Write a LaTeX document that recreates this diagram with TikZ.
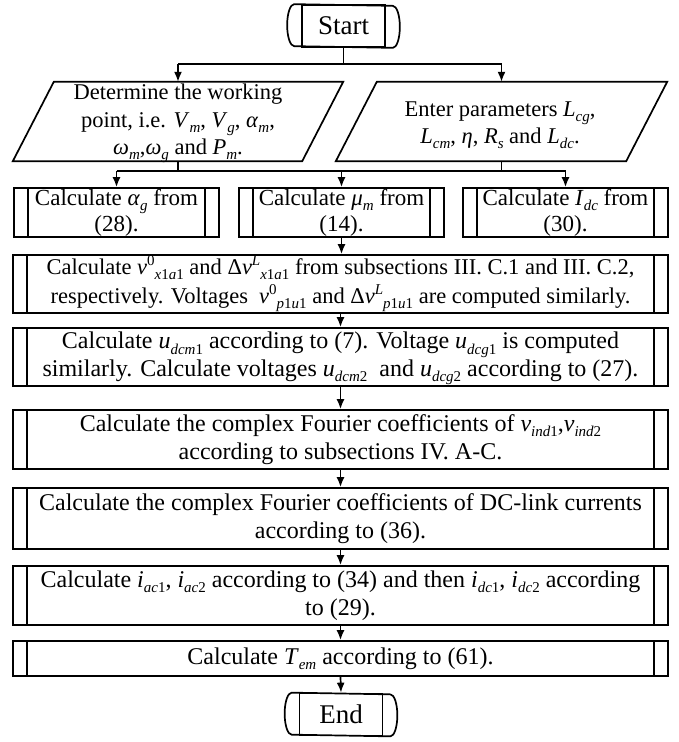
\documentclass[tikz,border=0pt]{standalone}
\usepackage{fontspec}
\setmainfont{Liberation Serif}
\usetikzlibrary{arrows.meta,calc}
\newcommand\lo[1]{\raisebox{-0.22em}[0pt][0pt]{\fontsize{15}{15}\selectfont #1}}
\newcommand\up[1]{\raisebox{0.4em}[0pt][0pt]{\fontsize{15}{15}\selectfont #1}}
\newcommand\iv[1]{\textit{#1}}
\tikzset{
  conn/.style={line width=1.7pt},
  arr/.style={conn,-{Latex[length=10pt,width=8pt]}},
  pbox/.style={inner sep=0pt, minimum height=79},
  ptext/.style={inner sep=0pt, align=center, font=\fontsize{22.5}{27.5}\selectfont},
  sbox/.style={draw, line width=1.7pt, inner sep=0pt, minimum width=205, minimum height=49, align=center, font=\fontsize{23}{26}\selectfont},
  lbox/.style={draw, line width=1.7pt, inner sep=0pt, minimum width=655, align=center},
  term/.style={draw, line width=1.7pt, inner sep=0pt, minimum width=83, minimum height=42, font=\fontsize{27}{30}\selectfont},
}
\begin{document}
\begin{tikzpicture}[x=1pt,y=-1pt,font=\fontsize{24}{27.5}\selectfont]
\useasboundingbox (0,0) rectangle (679,742);
% terminals
\node[term] (start) at (343.5,26) {Start};
\node[term] (end) at (341,714.5) {End};
\foreach \t in {start,end}{
  \draw[line width=1.7pt] ($(\t.north west)+(-7,0)$) arc[start angle=90,end angle=270,x radius=7pt,y radius=21pt]
    -- ($(\t.south east)+(7,0)$) arc[start angle=-90,end angle=90,x radius=7pt,y radius=21pt] -- cycle;
}
% parallelograms
\node[pbox, minimum width=330] (p1) at (178,121.5) {};
\node[pbox, minimum width=331] (p2) at (501.5,121.5) {};
\foreach \p in {p1,p2}{
  \draw[line width=1.7pt] ($(\p.north west)+(41,0)$) -- (\p.north east) -- ($(\p.south east)+(-41,0)$) -- (\p.south west) -- cycle;
}
\node[ptext] (p1t) at (178,121) {Determine the working\\ point, i.e. \iv{V}\lo{\iv{m}}, \iv{V}\lo{\iv{g}}, \iv{α}\lo{\iv{m}},\\ \iv{ω}\lo{\iv{m}},\iv{ω}\lo{\iv{g}} and \iv{P}\lo{\iv{m}}.};
\node[ptext] (p2t) at (500,125) {Enter parameters \iv{L}\lo{\iv{cg}},\\ \iv{L}\lo{\iv{cm}}, \iv{η}, \iv{R}\lo{\iv{s}} and \iv{L}\lo{\iv{dc}}.};
% subprocess boxes
\node[sbox] (b1) at (116.5,212.5) {Calculate \iv{α}\lo{\iv{g}} from\\ (28).};
\node[sbox] (b2) at (341.5,212.5) {Calculate \iv{μ}\lo{\iv{m}} from\\ (14).};
\node[sbox] (b3) at (565.5,212.5) {Calculate \iv{I}\lo{\iv{dc}} from\\ (30).};
\node[lbox, minimum height=58, font=\fontsize{22.5}{29}\selectfont] (b4) at (340.5,284) {Calculate \iv{v}\up{0}\lo{\iv{x}1\iv{a}1} and Δ\iv{v}\up{\iv{L}}\lo{\iv{x}1\iv{a}1} from subsections III. C.1 and III. C.2,\\ respectively. Voltages \ \iv{v}\up{0}\lo{\iv{p}1\iv{u}1} and Δ\iv{v}\up{\iv{L}}\lo{\iv{p}1\iv{u}1} are computed similarly.};
\node[lbox, minimum height=58] (b5) at (340.5,357) {Calculate \iv{u}\lo{\iv{dcm}1} according to (7). Voltage \iv{u}\lo{\iv{dcg}1} is computed\\ similarly. Calculate voltages \iv{u}\lo{\iv{dcm}2} \ and \iv{u}\lo{\iv{dcg}2} according to (27).};
\node[lbox, minimum height=59] (b6) at (340.5,439.5) {Calculate the complex Fourier coefficients of \iv{v}\lo{\iv{ind}1},\iv{v}\lo{\iv{ind}2}\\ according to subsections IV. A-C.};
\node[lbox, minimum height=61] (b7) at (340.5,518.5) {Calculate the complex Fourier coefficients of DC-link currents\\ according to (36).};
\node[lbox, minimum height=59] (b8) at (340.5,595.5) {Calculate \iv{i}\lo{\iv{ac}1}, \iv{i}\lo{\iv{ac}2} according to (34) and then \iv{i}\lo{\iv{dc}1}, \iv{i}\lo{\iv{dc}2} according\\ to (29).};
\node[lbox, minimum height=35] (b9) at (340.5,658.5) {Calculate \iv{T}\lo{\iv{em}} according to (61).};
\foreach \b in {b1,b2,b3,b4,b5,b6,b7,b8,b9}{
  \draw[line width=1.7pt] ($(\b.north west)+(15,0)$) -- ($(\b.south west)+(15,0)$)
    ($(\b.north east)+(-15,0)$) -- ($(\b.south east)+(-15,0)$);
}
% connectors
\coordinate (j1) at (0,64);
\coordinate (j2) at (0,171);
\draw[conn] (start.south) -- (start.south |- j1);
\draw[conn] (p1.north |- j1) -- (p2.north |- j1);
\draw[arr] (p1.north |- j1) -- (p1.north);
\draw[arr] (p2.north |- j1) -- (p2.north);
\draw[conn] (p1.south) -- (p1.south |- j2);
\draw[conn] (p2.south) -- (p2.south |- j2);
\draw[conn] (b1.north |- j2) -- (b3.north |- j2);
\draw[arr] (b1.north |- j2) -- (b1.north);
\draw[arr] (b2.north |- j2) -- (b2.north);
\draw[arr] (b3.north |- j2) -- (b3.north);
\draw[arr] (b2.south) -- (b2.south |- b4.north);
\draw[arr] (b4.south) -- (b5.north);
\draw[arr] (b5.south) -- (b6.north);
\draw[arr] (b6.south) -- (b7.north);
\draw[arr] (b7.south) -- (b8.north);
\draw[arr] (b8.south) -- (b9.north);
\draw[arr] (b9.south) -- (end.north);
\end{tikzpicture}
\end{document}
